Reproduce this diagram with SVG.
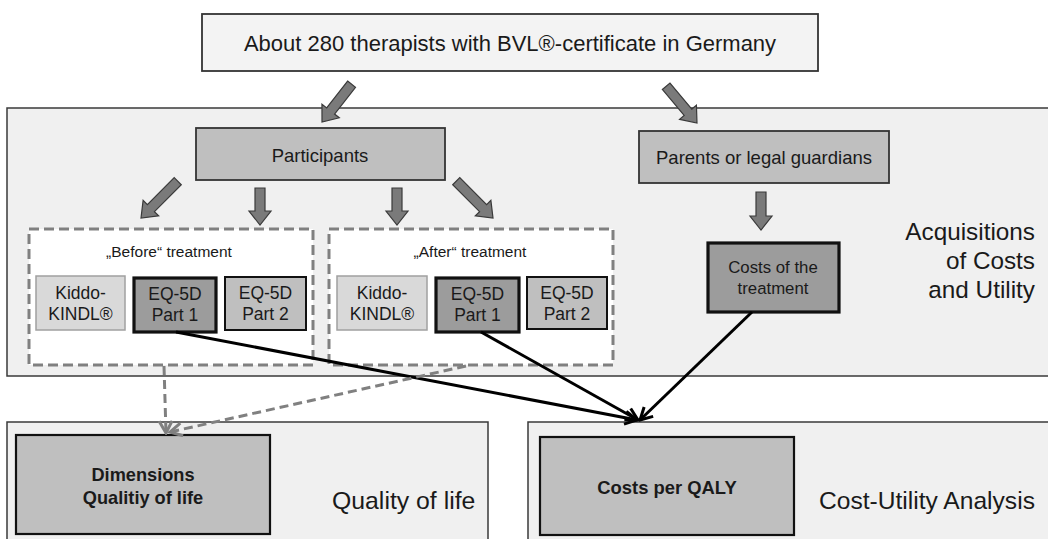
<svg xmlns="http://www.w3.org/2000/svg" width="1048" height="539" viewBox="0 0 1048 539">
<defs>
<style>
text{font-family:"Liberation Sans",Arial,sans-serif;fill:#1a1a1a}
.panel{fill:#f0f0f0;stroke:#3a3a3a;stroke-width:1.5}
.top{fill:#f3f3f3;stroke:#333;stroke-width:1.8}
.mid{fill:#bfbfbf;stroke:#333;stroke-width:1.8}
.dash{fill:#fff;stroke:#808080;stroke-width:3;stroke-dasharray:10 5}
.kid{fill:#d9d9d9;stroke:#a0a0a0;stroke-width:1.5}
.eq1{fill:#9c9c9c;stroke:#111;stroke-width:3.2}
.eq2{fill:#bfbfbf;stroke:#111;stroke-width:2}
.res{fill:#bfbfbf;stroke:#111;stroke-width:2.2}
.blk{fill:#7a7a7a;stroke:#3a3a3a;stroke-width:1.2}
.con{fill:none;stroke:#000;stroke-width:3}
.dcon{fill:none;stroke:#808080;stroke-width:3;stroke-dasharray:9 5}
.c{text-anchor:middle}
</style>
<marker id="ah" viewBox="0 0 16 16" refX="14" refY="8" markerWidth="16" markerHeight="16" markerUnits="userSpaceOnUse" orient="auto">
<path d="M2,1.5 L14,8 L2,14.5" fill="none" stroke="#000" stroke-width="3"/>
</marker>
<marker id="ahg" viewBox="0 0 16 16" refX="14" refY="8" markerWidth="16" markerHeight="16" markerUnits="userSpaceOnUse" orient="auto">
<path d="M2,1.5 L14,8 L2,14.5" fill="none" stroke="#808080" stroke-width="3"/>
</marker>
</defs>
<rect width="1048" height="539" fill="#fff"/>

<g id="panel-acq">
<rect class="panel" x="7" y="108" width="1045" height="268"/>
<text x="1035" y="240" font-size="24.3" text-anchor="end">Acquisitions</text>
<text x="1035" y="269" font-size="24.3" text-anchor="end">of Costs</text>
<text x="1035" y="298" font-size="24.3" text-anchor="end">and Utility</text>
</g>
<g id="panel-qol">
<rect class="panel" x="7" y="422" width="481" height="125"/>
<text x="332" y="509" font-size="24.8">Quality of life</text>
</g>
<g id="panel-cua">
<rect class="panel" x="528" y="422" width="530" height="125"/>
<text x="819" y="509" font-size="24.6">Cost-Utility Analysis</text>
</g>

<g id="top">
<rect class="top" x="202" y="14" width="616" height="57"/>
<text class="c" x="510" y="51" font-size="22">About 280 therapists with BVL®-certificate in Germany</text>
</g>

<g id="participants">
<rect class="mid" x="196" y="128" width="249" height="52"/>
<text class="c" x="320" y="161.5" font-size="18.5">Participants</text>
</g>
<g id="parents">
<rect class="mid" x="639" y="131" width="250" height="52"/>
<text class="c" x="764" y="163.5" font-size="18.5">Parents or legal guardians</text>
</g>

<g id="before">
<rect class="dash" x="29" y="229" width="284" height="136"/>
<text class="c" x="169" y="257" font-size="15.5">„Before“ treatment</text>
</g>
<g id="before-kiddo">
<rect class="kid" x="36" y="276" width="89" height="54"/>
<text class="c" x="80.5" y="299" font-size="17.5">Kiddo-</text>
<text class="c" x="80.5" y="320" font-size="17.5">KINDL®</text>
</g>
<g id="before-eq1">
<rect class="eq1" x="134" y="278" width="82" height="54"/>
<text class="c" x="175" y="300" font-size="17.5">EQ-5D</text>
<text class="c" x="175" y="321" font-size="17.5">Part 1</text>
</g>
<g id="before-eq2">
<rect class="eq2" x="225" y="277" width="81" height="53"/>
<text class="c" x="265.5" y="299" font-size="17.5">EQ-5D</text>
<text class="c" x="265.5" y="320" font-size="17.5">Part 2</text>
</g>

<g id="after">
<rect class="dash" x="329" y="229" width="284" height="136"/>
<text class="c" x="470" y="257" font-size="15.5">„After“ treatment</text>
</g>
<g id="after-kiddo">
<rect class="kid" x="337" y="276" width="90" height="54"/>
<text class="c" x="382" y="299" font-size="17.5">Kiddo-</text>
<text class="c" x="382" y="320" font-size="17.5">KINDL®</text>
</g>
<g id="after-eq1">
<rect class="eq1" x="436" y="278" width="83" height="54"/>
<text class="c" x="477.5" y="300" font-size="17.5">EQ-5D</text>
<text class="c" x="477.5" y="321" font-size="17.5">Part 1</text>
</g>
<g id="after-eq2">
<rect class="eq2" x="527" y="277" width="80" height="52"/>
<text class="c" x="567" y="299" font-size="17.5">EQ-5D</text>
<text class="c" x="567" y="320" font-size="17.5">Part 2</text>
</g>

<g id="costs-treatment">
<rect class="eq1" x="708" y="243" width="131" height="69"/>
<text class="c" x="773" y="273" font-size="16.8" fill="#333">Costs of the</text>
<text class="c" x="773" y="294" font-size="16.8" fill="#333">treatment</text>
</g>

<g id="dimensions">
<rect class="res" x="16" y="435" width="254" height="99"/>
<text class="c" x="143" y="481" font-size="18.2" font-weight="bold">Dimensions</text>
<text class="c" x="143" y="504" font-size="18.2" font-weight="bold">Qualitiy  of life</text>
</g>
<g id="costs-qaly">
<rect class="res" x="540" y="437" width="254" height="98"/>
<text class="c" x="667" y="494" font-size="18.4" font-weight="bold">Costs per QALY</text>
</g>

<g id="connectors">
<path class="blk" transform="translate(322,122) rotate(38)" d="M-5,-48 H5 V-14 H11 L0,0 L-11,-14 H-5 Z"/>
<path class="blk" transform="translate(697,123) rotate(-40)" d="M-5,-48 H5 V-14 H11 L0,0 L-11,-14 H-5 Z"/>
<path class="blk" transform="translate(141,218) rotate(45)" d="M-5,-52 H5 V-14 H11 L0,0 L-11,-14 H-5 Z"/>
<path class="blk" transform="translate(260,225)" d="M-5,-37 H5 V-14 H11 L0,0 L-11,-14 H-5 Z"/>
<path class="blk" transform="translate(397,225)" d="M-5,-37 H5 V-14 H11 L0,0 L-11,-14 H-5 Z"/>
<path class="blk" transform="translate(493,218) rotate(-45)" d="M-5,-52 H5 V-14 H11 L0,0 L-11,-14 H-5 Z"/>
<path class="blk" transform="translate(761,230)" d="M-5,-38 H5 V-14 H11 L0,0 L-11,-14 H-5 Z"/>

<line class="con" x1="176" y1="332" x2="637" y2="420" marker-end="url(#ah)"/>
<line class="con" x1="481" y1="332" x2="638" y2="420" marker-end="url(#ah)"/>
<line class="con" x1="752" y1="312" x2="640" y2="420" marker-end="url(#ah)"/>

<line class="dcon" x1="164" y1="366" x2="166" y2="433" marker-end="url(#ahg)"/>
<line class="dcon" x1="466" y1="366" x2="170" y2="432" marker-end="url(#ahg)"/>
</g>
</svg>
